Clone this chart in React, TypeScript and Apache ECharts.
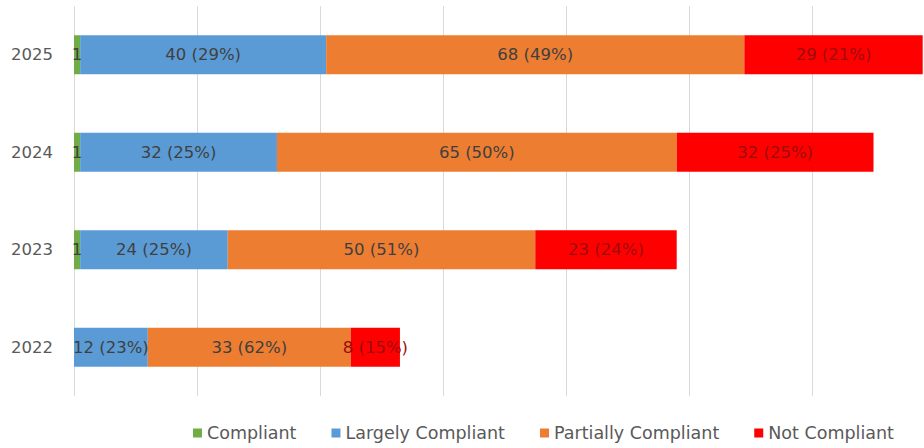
import React, { useEffect, useRef } from "react";
import * as echarts from "echarts";

const years = ["2022", "2023", "2024", "2025"];
const seriesNames = ["Compliant", "Largely Compliant", "Partially Compliant", "Not Compliant"];
const compliant = [0, 1, 1, 1];
const largely = [12, 24, 32, 40];
const partially = [33, 50, 65, 68];
const notCompliant = [8, 23, 32, 29];
const largelyPct = [23, 25, 25, 29];
const partiallyPct = [62, 51, 50, 49];
const notPct = [15, 24, 25, 21];
const colors = ["#70ad47", "#5b9bd5", "#ed7d31", "#ff0000"];

const FONT = "DejaVu Sans";

export default function App() {
  const ref = useRef<HTMLDivElement>(null);
  useEffect(() => {
    if (!ref.current) return;
    const chart = echarts.init(ref.current, undefined, { renderer: "svg" });
    const values = [compliant, largely, partially, notCompliant];
    const pcts = [null, largelyPct, partiallyPct, notPct];
    const labelColors = ["#404040", "#404040", "#404040", "#9c0c0c"];
    chart.setOption({
      animation: false,
      color: colors,
      grid: {
        left: 74,
        width: 861,
        top: 6,
        bottom: 52,
        containLabel: false,
        outerBoundsMode: "none",
      },
      xAxis: {
        type: "value",
        min: 0,
        max: 140,
        interval: 20,
        axisLabel: { show: false },
        axisLine: { show: false },
        axisTick: { show: false },
        splitLine: { show: true, lineStyle: { color: "#d9d9d9", width: 1 } },
      },
      yAxis: {
        type: "category",
        data: years,
        axisLine: { show: false },
        axisTick: { show: false },
        axisLabel: { color: "#595959", fontSize: 16.5, fontFamily: FONT, margin: 21 },
      },
      legend: {
        data: seriesNames,
        left: 188,
        top: 419,
        itemWidth: 9,
        itemHeight: 9,
        itemGap: 35,
        icon: "rect",
        textStyle: { color: "#595959", fontSize: 17.5, fontFamily: FONT },
      },
      series: seriesNames.map((name, si) => ({
        name,
        type: "bar",
        stack: "total",
        barWidth: "40%",
        data: values[si],
        itemStyle: { color: colors[si] },
        label: {
          show: true,
          position: "inside",
          color: labelColors[si],
          fontSize: 16.5,
          fontFamily: FONT,
          formatter: (p: any) => {
            if (!p.value) return "";
            const pa = pcts[si];
            return pa ? `${p.value} (${pa[p.dataIndex]}%)` : `${p.value}`;
          },
        },
      })),
    });
    return () => chart.dispose();
  }, []);
  return (
    <div
      ref={ref}
      style={{ position: "absolute", left: 0, top: 0, width: 924, height: 448 }}
    />
  );
}
